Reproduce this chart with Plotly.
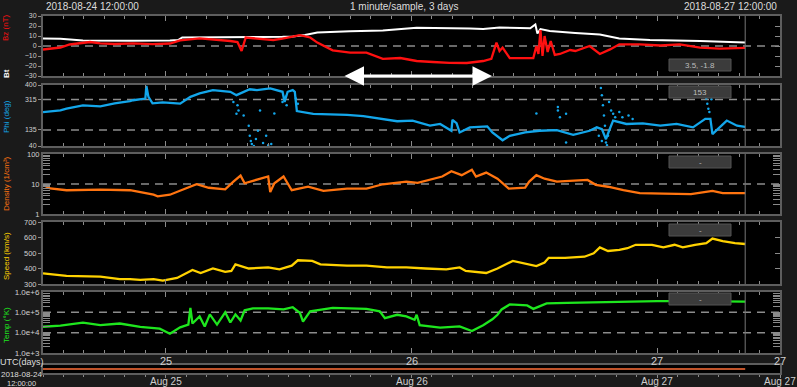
import plotly.graph_objects as go

# ---------------- data: hours after 2018-08-24 12:00 UTC ----------------
bt_hours = [0, 1.7, 3.9, 5.6, 8.5, 12.4, 13.2, 13.6, 16.3, 19.2, 21.2, 23.4, 24.4, 25.6, 26.8, 30.0,
            33.2, 36.5, 39.7, 41.7, 43.0, 44.6, 46.6, 47.6, 48.1, 48.3, 48.6, 49.5, 52.0, 54.4, 56.3,
            59.3, 64.2, 68.6]
bt_values = [7.5, 7.2, 5.6, 5.4, 5.2, 5.6, 6.0, 8.6, 9.0, 8.8, 9.0, 9.2, 9.6, 11.0, 13.5, 14.8,
             15.6, 18.2, 18.0, 17.5, 17.0, 18.5, 18.0, 17.7, 21.5, 12.5, 17.0, 15.0, 13.0, 11.5, 7.5,
             6.0, 5.0, 3.5]

bz_hours = [0, 0.7, 1.7, 2.6, 4.6, 5.6, 7.0, 8.8, 10.7, 12.4, 13.4, 15.3, 17.0, 18.3, 19.0, 19.4,
            19.8, 21.2, 22.5, 23.4, 25.1, 26.1, 26.8, 28.3, 30.0, 31.6, 33.2, 34.9, 36.5, 38.1, 39.7,
            41.4, 43.0, 43.8, 44.3, 44.6, 44.9, 45.6, 47.9, 48.2, 48.4, 48.6, 48.8, 49.0, 49.3, 49.6,
            50.0, 50.5, 51.5, 52.0, 53.4, 54.4, 55.4, 56.3, 58.3, 60.3, 62.2, 64.2, 66.1, 68.6]
bz_values = [-3.5, -2.5, -1.5, 1.5, 4.0, 2.7, 2.0, 2.6, 1.8, 2.5, 5.7, 7.7, 6.5, 5.0, 4.0, -5.0,
             8.4, 7.3, 6.0, 7.3, 10.8, 8.5, 3.4, -4.4, -6.7, -6.7, -12.8, -12.0, -15.0, -16.0, -16.9,
             -17.0, -15.0, -12.8, 3.4, -5.0, -1.6, -12.2, -12.0, 0.0, -8.0, 16.0, -10.0, 10.0, -6.0, 5.0,
             -9.0, -8.0, -4.0, -5.0, 0.0, -8.0, -3.4, 1.7, 1.7, 0.5, 1.7, -1.7, -2.6, -1.8]

phi_hours = [0, 1.7, 2.3, 3.9, 5.6, 7.0, 8.5, 8.8, 10.0, 10.1, 10.3, 10.7, 11.7, 13.4, 14.4, 15.3,
             16.6, 18.3, 18.9, 20.2, 20.9, 22.2, 23.4, 23.6, 23.9, 24.4, 24.6, 24.8, 26.4, 29.7, 31.3,
             32.9, 34.6, 36.1, 37.8, 38.8, 39.9, 40.0, 40.4, 40.7, 41.7, 43.4, 43.9, 44.9, 45.6, 47.1,
             48.5, 50.2, 51.8, 53.4, 54.1, 54.6, 55.0, 55.3, 55.7, 57.0, 58.6, 60.3, 61.9, 63.5, 64.7,
             65.2, 65.4, 66.8, 67.8, 68.6]
phi_values = [240, 250, 260, 280, 274, 292, 305, 310, 320, 395, 330, 292, 298, 290, 330, 350,
              370, 360, 340, 375, 370, 380, 360, 300, 360, 370, 360, 246, 230, 224, 216,
              200, 186, 190, 160, 170, 130, 194, 175, 120, 150, 156, 120, 74, 100, 120,
              130, 134, 106, 130, 150, 140, 80, 130, 190, 170, 174, 160, 170, 150, 200,
              200, 110, 190, 160, 153]

phi_pts_hours = [18.6, 18.9, 19.0, 19.1, 19.6, 20.1, 20.2, 20.3, 20.4, 20.6, 20.8, 21.0, 21.2, 21.5,
                 21.8, 22.0, 22.3, 22.6, 23.4, 23.7, 23.8, 24.7, 24.9, 48.2, 50.3, 50.3, 50.5, 51.1,
                 51.1, 54.3, 54.5, 54.6, 54.6, 54.7, 54.8, 54.9, 55.0, 55.1, 55.2, 55.3, 55.5, 55.7,
                 55.9, 56.3, 56.6, 57.2, 57.6, 64.8, 64.9, 65.0, 65.1, 65.3]
phi_pts_values = [300, 230, 280, 250, 220, 160, 100, 70, 52, 40, 82, 130, 250, 58,
                  100, 45, 52, 232, 300, 330, 280, 320, 290, 232, 270, 250, 210, 230,
                  60, 100, 382, 340, 70, 280, 220, 160, 60, 45, 100, 300, 250, 230,
                  210, 240, 210, 220, 200, 320, 290, 260, 240, 316]

dens_hours = [0, 0.7, 2.3, 5.6, 8.5, 10.8, 11.2, 12.4, 13.5, 15.0, 16.2, 17.8, 18.6, 19.3, 19.7,
              20.8, 22.0, 22.2, 22.6, 23.5, 24.3, 25.9, 27.4, 29.7, 31.6, 33.2, 35.5, 36.6, 37.8,
              39.0, 39.9, 40.9, 41.9, 42.3, 43.3, 44.4, 45.5, 47.1, 47.5, 48.2, 49.0, 50.2, 51.0,
              53.2, 54.0, 55.2, 56.7, 58.3, 60.6, 63.3, 65.4, 66.4, 68.6]
dens_values = [9.2, 7.1, 6.2, 6.5, 6.2, 4.4, 3.9, 4.4, 6.2, 9.8, 7.5, 6.6, 12, 19, 10.6,
               13.7, 17.8, 5.4, 10.6, 17.8, 6.2, 8.1, 5.9, 7.0, 7.0, 9.8, 11.9, 10.9, 13.7,
               17.8, 26.6, 19.7, 30, 17.8, 24, 15, 7.0, 7.5, 12, 19.7, 15, 12, 12.4,
               13.7, 9.4, 8.1, 6.2, 5.0, 4.8, 4.6, 5.9, 5.0, 5.0]

speed_hours = [0, 2.3, 5.6, 7.5, 8.5, 9.5, 10.8, 11.7, 13.1, 14.6, 15.4, 16.6, 17.8, 18.4, 18.8,
               20.1, 22.0, 23.1, 24.3, 24.9, 26.3, 27.1, 29.7, 31.6, 33.6, 35.5, 37.4, 39.4, 40.7,
               41.3, 43.3, 44.4, 45.9, 47.1, 48.2, 49.0, 49.4, 51.0, 52.9, 53.8, 54.4, 55.2, 56.3,
               57.1, 57.9, 59.5, 60.6, 61.7, 62.5, 63.7, 64.8, 65.4, 66.4, 67.6, 68.6]
speed_values = [369, 353, 347, 331, 331, 327, 332, 322, 339, 391, 371, 400, 378, 384, 427,
                400, 407, 395, 418, 453, 449, 427, 418, 418, 407, 407, 400, 395, 407,
                384, 371, 400, 449, 431, 416, 438, 469, 469, 476, 498, 536, 513, 520,
                531, 553, 553, 536, 553, 536, 553, 564, 593, 576, 564, 558]

temp_hours = [0, 1.7, 3.9, 5.6, 7.5, 9.5, 11.4, 12.4, 13.4, 14.2, 14.4, 14.6, 15.3, 15.8, 16.3,
              17.0, 17.8, 18.3, 18.8, 19.3, 19.7, 20.5, 22.0, 23.5, 24.4, 25.1, 25.4, 26.1, 28.3,
              31.6, 32.9, 33.4, 34.6, 35.5, 36.3, 36.5, 36.8, 38.8, 40.7, 41.9, 43.0, 43.9, 44.4,
              44.8, 45.6, 47.3, 47.9, 49.2, 51.2, 53.7, 56.0, 60.0, 64.0, 68.6]
temp_values = [19500, 22400, 30900, 23400, 28200, 19500, 15800, 8900, 18200, 25100, 166000, 28200,
               63000, 20000, 79400, 25100, 100000, 31600, 79400, 39800, 126000, 158000, 158000,
               141000, 178000, 93300, 34700, 112000, 166000, 148000, 112000, 51300, 75900, 63000,
               42700, 75900, 23400, 17800, 20400, 12000, 23400, 45700, 75900, 138000, 245000,
               219000, 148000, 275000, 295000, 316000, 331000, 355000, 355000, 339000]

day_ticks = [25, 26, 27, 27.5]
day_labels = ['25', '26', '27', '27']
date_labels = ['Aug 25', 'Aug 26', 'Aug 27', 'Aug 27']
start_label = '2018-08-24 12:00:00'
end_label = '2018-08-27 12:00:00'
mid_label = '1 minute/sample, 3 days'

# ---------------- layout helpers ----------------
W, H = 797, 387
def px(x):
    return x / W
def py(y):
    return 1 - y / H

T0 = 24.5
def days(hours):
    return [T0 + h / 24 for h in hours]

X0, X1 = 43, 780
PANELS = [(16, 76), (85, 146), (154, 214), (222, 284), (292, 353)]
BG = '#1a1a1a'
BORDER = '#5e5e5e'
TICK = '#8a8a8a'
TXT = '#cfcfcf'
DASH = '#8c8c8c'
FONT = 'Liberation Sans, Arial, sans-serif'

C_BT, C_BZ = '#ffffff', '#ff1010'
C_PHI, C_DEN, C_SPD, C_TMP = '#13a6ea', '#ff7410', '#ffd200', '#1ee61e'

fig = go.Figure()
xr = [24.5, 27.5]
t_end = days(bt_hours)[-1]

def dashed(ax_i, val):
    yref = 'y' if ax_i == 1 else f'y{ax_i}'
    xref = 'x' if ax_i == 1 else f'x{ax_i}'
    fig.add_trace(go.Scatter(x=xr, y=[val, val], mode='lines', xaxis=xref, yaxis=yref,
                             line=dict(color=DASH, width=1.5, dash='8px,6px'),
                             hoverinfo='skip', showlegend=False))

dashed(1, 0)
dashed(2, 315)
dashed(2, 135)
dashed(3, 10)
dashed(5, 1e5)
dashed(5, 1e4)

fig.add_trace(go.Scatter(x=days(bt_hours), y=bt_values, mode='lines', xaxis='x', yaxis='y',
                         line=dict(color=C_BT, width=2), showlegend=False))
fig.add_trace(go.Scatter(x=days(bz_hours), y=bz_values, mode='lines', xaxis='x', yaxis='y',
                         line=dict(color=C_BZ, width=2.3), showlegend=False))
fig.add_trace(go.Scatter(x=days(phi_hours), y=phi_values, mode='lines', xaxis='x2', yaxis='y2',
                         line=dict(color=C_PHI, width=2.3), showlegend=False))
fig.add_trace(go.Scatter(x=days(phi_pts_hours), y=phi_pts_values, mode='markers', xaxis='x2', yaxis='y2',
                         marker=dict(color=C_PHI, size=2.5), showlegend=False))
fig.add_trace(go.Scatter(x=days(dens_hours), y=dens_values, mode='lines', xaxis='x3', yaxis='y3',
                         line=dict(color=C_DEN, width=2.3), showlegend=False))
fig.add_trace(go.Scatter(x=days(speed_hours), y=speed_values, mode='lines', xaxis='x4', yaxis='y4',
                         line=dict(color=C_SPD, width=2.3), showlegend=False))
fig.add_trace(go.Scatter(x=days(temp_hours), y=temp_values, mode='lines', xaxis='x5', yaxis='y5',
                         line=dict(color=C_TMP, width=2.3), showlegend=False))

# dummy traces for right-side tick axes
for i in range(5):
    xa = 'x' if i == 0 else f'x{i+1}'
    fig.add_trace(go.Scatter(x=[None], y=[None], xaxis=xa, yaxis=f'y{i+6}', showlegend=False))
# timeline strip
all_days = days(bt_hours)
fig.add_trace(go.Scatter(x=[all_days[0], all_days[-1]], y=[0.5, 0.5], mode='lines', xaxis='x6', yaxis='y11',
                         line=dict(color='#c0532a', width=2), showlegend=False))

def comb(lo_exp, hi_exp, fmt):
    vals, txt = [], []
    for e in range(lo_exp, hi_exp + 1):
        for m in range(1, 10):
            if e == hi_exp and m > 1:
                break
            vals.append(m * 10 ** e)
            txt.append(fmt(e) if m == 1 else '')
    return vals, txt

den_tv, den_tt = comb(0, 2, lambda e: str(10 ** e))
tmp_tv, tmp_tt = comb(3, 6, lambda e: f'1.0e+{e}')

ycfg = [
    dict(range=[-30, 30], type='linear', tickvals=list(range(-30, 31, 10)), ticktext=None, ticks='outside', ticklen=3, fs=7),
    dict(range=[40, 400], type='linear', tickvals=[40, 135, 315, 400], ticktext=None, ticks='outside', ticklen=3, fs=7),
    dict(range=[0, 2], type='log', tickvals=den_tv, ticktext=den_tt, ticks='inside', ticklen=7, fs=7.5),
    dict(range=[300, 700], type='linear', tickvals=[300, 400, 500, 600, 700], ticktext=None, ticks='outside', ticklen=3, fs=7.5),
    dict(range=[3, 6], type='log', tickvals=tmp_tv, ticktext=tmp_tt, ticks='inside', ticklen=7, fs=8),
]

lay = {}
for i, (top, bot) in enumerate(PANELS):
    n = '' if i == 0 else str(i + 1)
    c = ycfg[i]
    lay[f'xaxis{n}'] = dict(domain=[px(X0), px(X1)], range=xr, anchor=f'y{n}', showline=True,
                            linecolor=BORDER, linewidth=2, mirror='ticks', ticks='inside',
                            tickvals=day_ticks, ticktext=day_labels, ticklen=5, tickcolor=TICK,
                            minor=dict(dtick=1 / 12, tick0=24.5, ticks='inside', ticklen=3, tickcolor=TICK),
                            showgrid=False, zeroline=False, showticklabels=False)
    yd = dict(domain=[py(bot), py(top)], range=c['range'], type=c['type'], anchor=f'x{n}',
              showline=True, linecolor=BORDER, linewidth=2, mirror=True, ticks=c['ticks'],
              ticklen=c['ticklen'], tickcolor=TICK, tickvals=c['tickvals'],
              showgrid=False, zeroline=False, tickfont=dict(size=c['fs'], color=TXT, family=FONT))
    if c['ticktext'] is not None:
        yd['ticktext'] = c['ticktext']
    lay[f'yaxis{n}'] = yd
    lay[f'yaxis{i+6}'] = dict(overlaying=f'y{n}', side='right', anchor=f'x{n}', range=c['range'],
                              type=c['type'], tickvals=c['tickvals'], ticks='inside',
                              ticklen=7 if c['type'] == 'log' else 5, tickcolor=TICK,
                              showticklabels=False, showline=False, showgrid=False, zeroline=False)

lay['xaxis6'] = dict(domain=[px(X0), px(X1)], range=xr, anchor='y11', showline=True, linecolor=BORDER,
                     linewidth=1.5, mirror=True, ticks='outside', tickvals=day_ticks,
                     ticklen=3, tickcolor=TICK, showticklabels=False,
                     minor=dict(dtick=1 / 12, tick0=24.5, ticks='outside', ticklen=2, tickcolor=TICK),
                     showgrid=False, zeroline=False)
lay['yaxis11'] = dict(domain=[py(373), py(365)], range=[0, 1], anchor='x6', showline=True, linecolor=BORDER,
                      linewidth=1.5, mirror=True, ticks='', showticklabels=False, showgrid=False, zeroline=False)

shapes = []
for i in range(5):
    n = '' if i == 0 else str(i + 1)
    shapes.append(dict(type='line', xref=f'x{n}', yref=f'y{n} domain', x0=t_end, x1=t_end, y0=0, y1=1,
                       line=dict(color='#777777', width=1)))

annotations = []
# day-number and date tick labels placed under the bottom panel and the time strip
for d, t1, t2 in zip(day_ticks, day_labels, date_labels):
    annotations.append(dict(x=d, xref='x5', y=py(361), yref='paper', text=t1, showarrow=False,
                            xanchor='center', yanchor='middle', font=dict(size=11, color=TXT, family=FONT)))
    annotations.append(dict(x=d, xref='x6', y=py(381), yref='paper', text=t2, showarrow=False,
                            xanchor='center', yanchor='middle', font=dict(size=10, color=TXT, family=FONT)))

box_texts = [f'{bt_values[-1]}, {bz_values[-1]}', f'{phi_values[-1]}', '-', '-', '-']
box_tops = [59, 86, 156, 224, 293]
for t, bt in zip(box_texts, box_tops):
    shapes.append(dict(type='rect', xref='paper', yref='paper', x0=px(669), x1=px(731), y0=py(bt + 12), y1=py(bt),
                       fillcolor='#3b3b3b', line=dict(color='#555555', width=1)))
    annotations.append(dict(x=px(700), y=py(bt + 6), xref='paper', yref='paper', text=t, showarrow=False,
                            xanchor='center', yanchor='middle',
                            font=dict(size=8, color='#bdbdbd', family=FONT)))

def label(text, x, y, color, size=8, angle=-90, xanchor='center', bold=False):
    if bold:
        text = f'<b>{text}</b>'
    annotations.append(dict(x=px(x), y=py(y), xref='paper', yref='paper', text=text, showarrow=False,
                            textangle=angle, xanchor=xanchor, yanchor='middle',
                            font=dict(size=size, color=color, family=FONT)))

label('Bz (nT)', 6, 28, C_BZ)
label('Bt', 6, 74, '#ffffff', bold=True)
label('Phi (deg)', 6, 117, C_PHI)
label('Density (1/cm³)', 6, 184, C_DEN)
label('Speed (km/s)', 6, 256, C_SPD)
label('Temp (°K)', 6, 325, C_TMP)
label(start_label, 44, 7, '#dddddd', size=10, angle=0, xanchor='left')
label(mid_label, 404, 7, '#dddddd', size=10, angle=0)
label(end_label, 779, 7, '#dddddd', size=10, angle=0, xanchor='right')
label('UTC(days)', 22, 362, '#dddddd', size=9, angle=0)
label('2018-08-24', 21, 374, '#dddddd', size=8, angle=0)
label('12:00:00', 21, 383, '#dddddd', size=7.5, angle=0)

# double arrow
annotations.append(dict(x=px(492), y=py(76), xref='paper', yref='paper', ax=-149, ay=0,
                        axref='pixel', ayref='pixel', text='', showarrow=True, arrowhead=2,
                        arrowside='end+start', arrowwidth=3, arrowsize=1.3, arrowcolor='#ffffff'))

fig.update_layout(width=W, height=H, autosize=False, margin=dict(l=0, r=0, t=0, b=0, pad=0),
                  paper_bgcolor=BG, plot_bgcolor='#000000', showlegend=False, template='none',
                  shapes=shapes, annotations=annotations, font=dict(family=FONT), **lay)

fig.write_html('out.html', config={'displayModeBar': False},
               post_script="document.body.style.margin='0';document.body.style.padding='0';"
                           "document.body.style.overflow='hidden';document.body.style.background='#1a1a1a';")
